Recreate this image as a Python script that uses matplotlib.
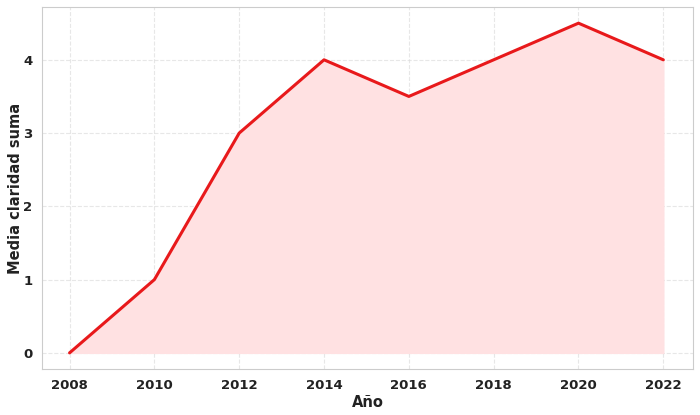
import matplotlib.pyplot as plt
import seaborn as sns

years = [2008, 2010, 2012, 2014, 2016, 2018, 2020, 2022]
values = [0, 1, 3, 4, 3.5, 4, 4.5, 4]

sns.set_style("whitegrid")
plt.rcParams['font.family'] = ['DejaVu Sans']

fig, ax = plt.subplots(figsize=(7, 4.15), dpi=100)
ax.fill_between(years, values, color='#ffe1e2', alpha=1)
ax.plot(years, values, color='#e8191b', linewidth=2.2)
ax.set_xticks(years)
ax.set_xlabel('Año', fontsize=10.5, fontweight='bold', color='#222222', labelpad=2)
ax.set_ylabel('Media claridad suma', fontsize=10.5, fontweight='bold', color='#222222', labelpad=0)
for lab in ax.get_xticklabels() + ax.get_yticklabels():
    lab.set_fontweight('bold')
ax.tick_params(labelsize=9.5, colors='#222222')
ax.grid(True, linestyle='--', alpha=0.7, color='#dddddd')
for s in ax.spines.values():
    s.set_color('#cccccc')
ax.set_xlim(2007.35, 2022.7)
ax.set_ylim(-0.225, 4.72)
fig.subplots_adjust(left=0.06, right=0.99, top=0.983, bottom=0.11)
fig.savefig('out.png')
